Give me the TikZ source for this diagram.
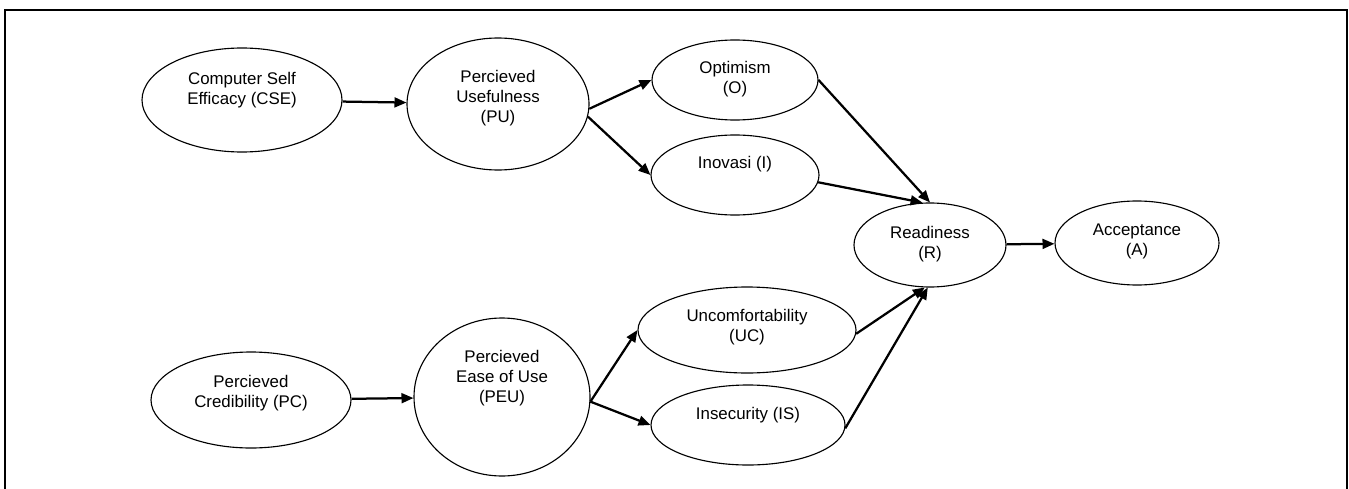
\documentclass[tikz,border=0pt]{standalone}
\usepackage{fontspec}
\setmainfont{Liberation Sans}
\usepackage{tikz}
\usetikzlibrary{arrows.meta, positioning, shapes.geometric}
\tikzstyle{var} = [ellipse, draw=black, line width=0.8pt, fill=white, inner sep=0pt]
\tikzstyle{arrow} = [line width=1.6pt,-{Triangle[length=8.5pt,width=7pt]}]
\tikzstyle{frame} = [draw=black, line width=1.2pt]
\tikzset{
  font={\fontsize{12pt}{14.2pt}\selectfont},
  every label/.style={align=center, inner sep=0pt}}

\begin{document}
\begin{tikzpicture}[node distance = 6cm]
    \useasboundingbox (0,0) rectangle (33.725,12.2);
    \draw [frame] (0.125,-0.3) rectangle (33.675,11.95);

    \node (cse) [var, minimum width=5cm, minimum height=2.6cm, label={[yshift=0.25cm]center:Computer Self\\Efficacy (CSE)}] at (6.05,9.7) {};
    \node (pu) [var, right of=cse, xshift=0.4cm, yshift=-0.1cm, minimum width=4.55cm, minimum height=3.3cm, label={[yshift=0.15cm]center:Percieved\\Usefulness\\(PU)}] {};
    \node (o) [var, right of=pu, xshift=-0.075cm, yshift=0.6cm, minimum width=4.15cm, minimum height=2cm, label={[yshift=0.025cm]center:Optimism\\(O)}] {};
    \node (i) [var, right of=pu, xshift=-0.075cm, yshift=-1.775cm, minimum width=4.2cm, minimum height=2cm, label={[yshift=0.275cm]center:Inovasi (I)}] {};
    \node (r) [var, right of=i, xshift=-1.125cm, yshift=-1.75cm, minimum width=3.8cm, minimum height=2.1cm, label={[yshift=0.025cm]center:Readiness\\(R)}] {};
    \node (a) [var, right of=r, xshift=-0.825cm, yshift=0.05cm, minimum width=4.1cm, minimum height=2.1cm, label={[yshift=0.05cm]center:Acceptance\\(A)}] {};
    \node (pc) [var, below of=cse, xshift=0.225cm, yshift=-1.5cm, minimum width=5cm, minimum height=2.4cm, label={[yshift=0.16cm]center:Percieved\\Credibility (PC)}] {};
    \node (peu) [var, right of=pc, xshift=0.275cm, yshift=0.075cm, minimum width=4.4cm, minimum height=3.95cm, label={[yshift=0.475cm]center:Percieved\\Ease of Use\\(PEU)}] {};
    \node (uc) [var, right of=peu, xshift=0.125cm, yshift=1.675cm, minimum width=5.45cm, minimum height=2.15cm, label={[yshift=0.075cm]center:Uncomfortability\\(UC)}] {};
    \node (is) [var, right of=peu, xshift=0.15cm, yshift=-0.7cm, minimum width=4.85cm, minimum height=2cm, label={[yshift=0.25cm]center:Insecurity (IS)}] {};

    \draw [arrow] (cse) -- (pu);
    \draw [arrow] (pu.-3) -- (o.west);
    \draw [arrow] (pu.-8) -- (i.west);
    \draw [arrow] (o.east) -- (r.north);
    \draw [arrow] (i.-5) -- (r.100);
    \draw [arrow] (pc) -- (peu);
    \draw [arrow] (peu.-3) -- (uc.west);
    \draw [arrow] (peu.-3) -- (is.west);
    \draw [arrow] (uc.-2) -- (r.-97);
    \draw [arrow] (is.-2) -- (r.-93);
    \draw [arrow] (r) -- (a);
\end{tikzpicture}
\end{document}
